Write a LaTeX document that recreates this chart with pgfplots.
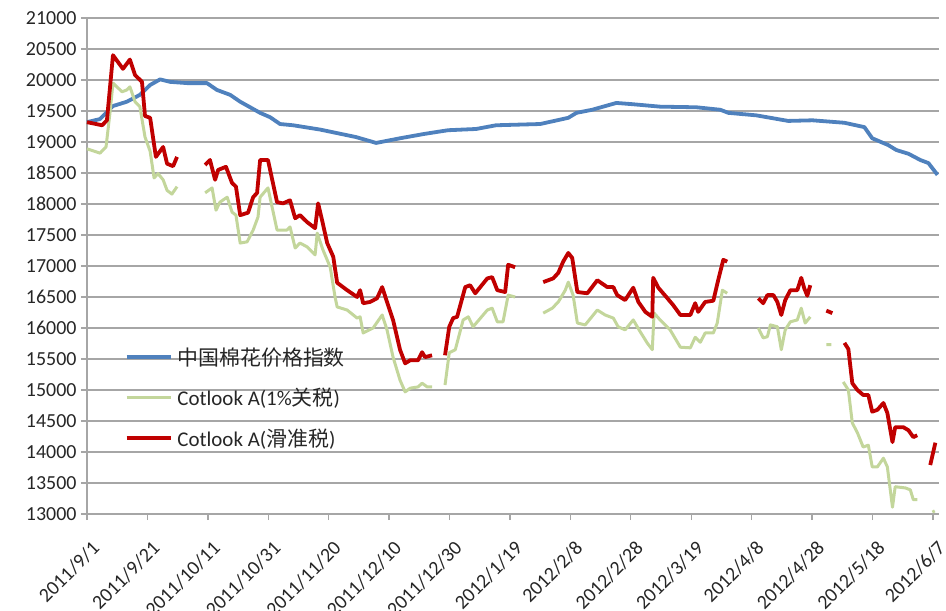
\documentclass[border=0pt]{standalone}
\usepackage{fontspec}
\setmainfont{Carlito}
\newfontfamily\cjk{Noto Sans CJK SC}
\usepackage{pgfplots}
\pgfplotsset{compat=1.18}
\usepackage{pgfplotstable}

\definecolor{cblue}{HTML}{4F81BD}
\definecolor{cred}{HTML}{C00000}
\definecolor{cgreen}{HTML}{C3D69B}
\definecolor{cgrid}{HTML}{A6A6A6}
\definecolor{ctext}{HTML}{262626}

\pgfplotstableread{
x y
0 19320
4.3 19370
8.6 19580
13.2 19650
17.5 19760
20.9 19920
24.2 20010
27.5 19970
33.1 19950
39.7 19950
43.0 19840
47.4 19760
50.7 19650
57.3 19470
60.6 19400
63.9 19290
68.2 19270
77.2 19200
89.0 19080
95.7 18985
103.6 19060
111.6 19130
119.5 19190
128.8 19210
135.4 19270
150.0 19290
159.3 19390
162.0 19470
167.2 19520
175.2 19630
180.5 19610
189.7 19570
201.7 19560
209.6 19520
212.3 19470
221.5 19430
232.1 19340
240.1 19350
250.7 19310
257.3 19240
259.9 19060
265.2 18950
267.9 18870
271.9 18810
275.8 18710
278.5 18660
281.5 18470
}\bluedata

\pgfplotstableread{
x y
0 18890
4.3 18820
6.3 18920
7.6 19470
8.6 19950
11.6 19810
13.2 19840
14.2 19890
15.9 19650
17.5 19570
19.2 19080
20.9 18850
22.2 18420
23.5 18490
25.2 18390
26.5 18220
28.1 18160
29.8 18280
30.0 nan
39.1 18180
41.4 18260
42.7 17900
44.0 18030
46.4 18110
48.0 17870
49.3 17820
50.7 17370
53.0 17390
55.0 17580
56.6 17790
57.3 18110
59.9 18260
62.9 17580
66.2 17580
67.2 17630
68.9 17290
70.5 17370
72.8 17310
75.5 17180
76.2 17530
78.1 17260
80.5 16980
82.1 16500
82.8 16340
86.1 16290
89.4 16160
90.4 16180
91.4 15920
94.7 16000
97.7 16210
99.3 15970
101.3 15530
103.6 15160
105.3 14970
107.0 15030
109.6 15050
110.9 15110
112.6 15050
114.2 15050
115 nan
118.5 15080
119.9 15600
121.9 15650
124.5 16130
126.2 16180
127.8 16020
132.5 16290
134.1 16320
135.8 16100
137.7 16100
139.4 16530
141.7 16500
142 nan
151.0 16240
154.0 16320
156.0 16420
158.3 16610
159.3 16740
160.9 16530
162.3 16080
164.9 16050
168.9 16290
171.5 16210
174.2 16160
175.8 16020
178.1 15970
180.8 16130
183.1 15940
185.4 15760
187.1 15650
187.7 16240
189.7 16130
193.0 15970
196.4 15690
199.7 15680
201.3 15850
203.0 15770
204.6 15920
207.3 15920
208.6 16080
210.3 16610
211.9 16560
212 nan
222.2 16000
223.8 15840
225.2 15860
226.2 16050
228.5 16020
229.8 15650
231.1 15970
232.8 16100
235.1 16130
236.4 16320
237.7 16080
239.4 16180
240 nan
244.7 15730
246.4 15730
247 nan
250.3 15130
252.0 15000
253.3 14470
255.0 14310
256.9 14080
258.6 14110
259.9 13760
261.6 13760
263.6 13900
264.9 13760
266.6 13110
267.5 13440
270.9 13420
272.5 13390
273.5 13230
274.8 13230
275 nan
279.8 13030
280.6 13050
}\greendata

\pgfplotstableread{
x y
0 19320
5.0 19270
6.6 19350
8.6 20400
11.9 20180
14.2 20330
15.9 20080
18.2 19970
19.2 19420
20.9 19390
22.8 18760
25.2 18920
26.5 18650
28.5 18610
29.8 18760
30.0 nan
39.1 18630
40.7 18710
42.4 18390
43.4 18550
46.0 18600
48.0 18340
49.3 18280
50.7 17820
53.3 17860
55.0 18110
56.3 18180
57.3 18710
59.9 18710
62.9 18030
64.9 18010
67.2 18060
68.9 17770
70.5 17820
72.8 17710
75.5 17610
76.5 18010
77.8 17740
79.5 17370
81.5 17150
82.8 16730
86.1 16610
89.4 16500
90.4 16610
91.4 16400
93.7 16420
96.0 16480
97.7 16660
99.3 16420
101.3 16130
103.6 15650
105.3 15430
107.0 15480
109.6 15480
110.9 15610
111.9 15530
114.2 15560
115 nan
118.5 15560
119.9 16020
121.2 16160
122.5 16180
125.2 16660
126.8 16690
128.5 16560
132.5 16800
134.1 16820
135.8 16610
138.4 16580
139.4 17020
141.7 16980
142 nan
151.0 16740
154.3 16800
156.0 16890
157.6 17070
159.3 17210
160.6 17130
162.3 16580
165.6 16560
168.9 16770
172.2 16660
174.2 16660
175.5 16530
178.1 16450
180.8 16650
182.5 16420
184.8 16260
187.1 16180
187.4 16810
189.1 16650
192.1 16480
194.0 16370
196.4 16210
199.7 16210
201.3 16400
202.3 16260
204.6 16420
207.3 16440
208.9 16770
210.6 17100
211.9 17070
212 nan
222.2 16480
223.8 16400
225.2 16530
227.2 16530
228.5 16420
229.8 16210
231.1 16450
232.8 16610
235.1 16610
236.4 16810
237.4 16640
238.4 16520
239.4 16690
240 nan
244.7 16280
246.7 16240
247 nan
250.7 15760
252.0 15660
253.3 15110
255.0 15000
256.9 14920
258.6 14920
259.9 14650
261.6 14680
263.6 14790
264.9 14630
266.6 14160
267.5 14400
270.2 14400
271.9 14350
273.5 14240
274.8 14270
275 nan
279.1 13790
280.8 14150
}\reddata

\begin{document}
\begin{tikzpicture}
\path[use as bounding box] (0,0) rectangle (946bp,611bp);
\begin{axis}[
  at={(87bp,97bp)}, anchor=south west,
  scale only axis, width=852bp, height=496bp,
  xmin=0, xmax=282, ymin=13000, ymax=21000,
  xtick={0,20,...,280},
  xticklabels={2011/9/1,2011/9/21,2011/10/11,2011/10/31,2011/11/20,2011/12/10,2011/12/30,2012/1/19,2012/2/8,2012/2/28,2012/3/19,2012/4/8,2012/4/28,2012/5/18,2012/6/7},
  ytick={13000,13500,...,21000},
  scaled y ticks=false,
  axis x line*=bottom, axis y line*=left,
  axis line style={cgrid, line width=1.3bp, -},
  ymajorgrids, grid style={cgrid, line width=1.3bp},
  major tick style={cgrid, line width=1.3bp},
  tick align=outside, major tick length=6bp,
  /pgf/number format/1000 sep={},
  /pgf/number format/assume math mode=true,
  yticklabel style={font=\fontsize{20}{20}\selectfont, text=ctext, xshift=-1bp},
  xticklabel style={font=\fontsize{20}{20}\selectfont, text=ctext, rotate=45, anchor=east, xshift=-8bp, yshift=-24bp},
  unbounded coords=jump,
  clip=false,
  legend cell align=left,
  legend image code/.code={\draw[#1] (0bp,0bp) -- (44bp,0bp);},
  legend style={at={(axis description cs:0.044,0.340)}, anchor=north west, draw=none, fill=none,
    font=\fontsize{21}{21}\selectfont, text=ctext, inner sep=0pt, row sep=17.5bp,
    /tikz/every odd column/.append style={column sep=3bp}},
]
\addplot[cblue, line width=3.8bp, line join=round] table[x=x,y=y] {\bluedata};
\addlegendentry{{\cjk 中国棉花价格指数}}
\addplot[cgreen, line width=3bp, line join=round] table[x=x,y=y] {\greendata};
\addlegendentry{Cotlook A(1\%{\cjk 关税})}
\addplot[cred, line width=3.8bp, line join=round] table[x=x,y=y] {\reddata};
\addlegendentry{Cotlook A({\cjk 滑准税})}
\end{axis}
\end{tikzpicture}
\end{document}
